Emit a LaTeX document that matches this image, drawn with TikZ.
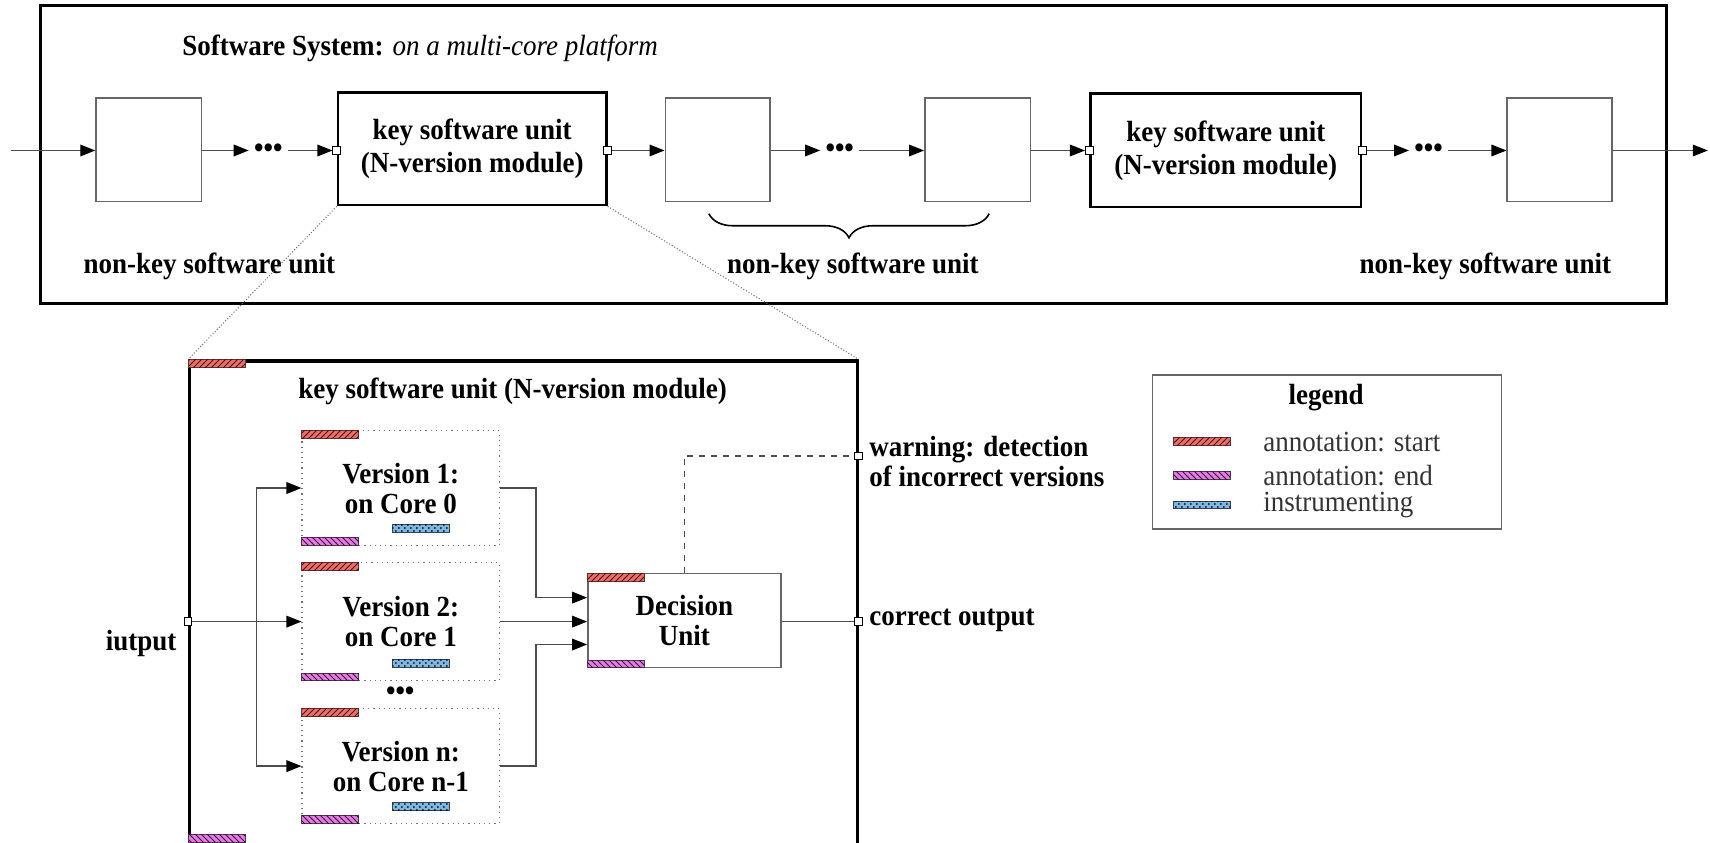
\documentclass[tikz,border=0pt]{standalone}
\usepackage{fontspec}
\setmainfont{Liberation Serif}[FakeStretch=0.925]
\usetikzlibrary{arrows.meta,patterns,decorations.pathreplacing,calc}
\definecolor{redc}{HTML}{E8706A}
\definecolor{pinkc}{HTML}{E37DE3}
\definecolor{bluec}{HTML}{7CBAD8}
\newcommand\bodyfont{\fontsize{14.6}{15}\selectfont}
\tikzset{
  boxat/.style n args={4}{minimum width={(#3-#1)*0.5453pt}, minimum height={(#4-#2)*0.5453pt}, at={($(#1,#2)!0.5!(#3,#4)$)}},
  unitbox/.style={draw=black!60, line width=0.7pt, inner sep=0pt, fill=white},
  keybox/.style={draw=black, line width=1.3pt, inner sep=0pt, align=center, font=\fontsize{14.6}{16.5}\selectfont\bfseries},
  verbox/.style={draw=black!55, dotted, line width=0.6pt, inner sep=0pt, align=center, font=\bodyfont\bfseries},
  decbox/.style={draw=black!60, line width=0.7pt, inner sep=0pt, align=center, font=\bodyfont\bfseries},
  bigbox/.style={draw=black, line width=1.4pt, inner sep=0pt},
  legbox/.style={draw=black!60, line width=0.7pt, inner sep=0pt},
  port/.style={draw=black, line width=0.5pt, fill=white, minimum size=3.8pt, inner sep=0pt},
  conn/.style={draw=black!70, line width=0.7pt},
  arr/.style={conn, -{Triangle[length=7.5pt,width=5.8pt,color=black]}},
  dotsn/.style={inner sep=2.5pt, font=\bodyfont\bfseries},
  lbl/.style={font=\bodyfont\bfseries, inner sep=1pt},
  leglbl/.style={font=\bodyfont, text=black!80, inner sep=0pt, anchor=west},
  bar/.style={draw=black!75, line width=0.5pt, minimum width=28.4pt, minimum height=3.8pt, inner sep=0pt},
  startbar/.style={bar, fill=redc, postaction={pattern=north east lines, pattern color=red!45!black}},
  endbar/.style={bar, fill=pinkc, postaction={pattern=north west lines, pattern color=violet!60!black}},
  instbar/.style={bar, fill=bluec, postaction={pattern=crosshatch dots, pattern color=blue!40!black}},
  zoomline/.style={draw=black!60, densely dotted, line width=0.5pt},
}
\begin{document}
\begin{tikzpicture}[x=0.5453pt, y=-0.5453pt]
\useasboundingbox (0,0) rectangle (1568,773);

% ---------- upper system ----------
\node[bigbox, boxat={37}{5}{1528}{278}] (sys) {};
\node[lbl, anchor=west] (title) at (165,44) {Software System: \textit{\mdseries on a multi-core platform}};

\node[unitbox, boxat={88}{90}{185}{185}] (u1) {};
\node[keybox, boxat={310}{85}{556}{188}] (k1) {key software unit\\(N-version module)};
\node[unitbox, boxat={610}{90}{706}{185}] (u3) {};
\node[unitbox, boxat={848}{90}{945}{185}] (u4) {};
\node[keybox, boxat={1000}{86}{1248}{190}] (k2) {key software unit\\(N-version module)};
\node[unitbox, boxat={1382}{90}{1478}{185}] (u5) {};

\coordinate (in) at (10,138);
\coordinate (out) at (1566,138);
\node[dotsn] (d1) at (246,138) {•••};
\node[dotsn] (d2) at (770,138) {•••};
\node[dotsn] (d3) at (1310,138) {•••};

\node[port] (k1a) at (k1.west |- 0,138) {};
\node[port] (k1b) at (k1.east |- 0,138) {};
\node[port] (k2a) at (k2.west |- 0,138) {};
\node[port] (k2b) at (k2.east |- 0,138) {};

\draw[arr] (in) -- (u1.west |- in);
\draw[arr] (u1.east |- d1) -- (d1);
\draw[arr] (d1) -- (k1a);
\draw[arr] (k1b) -- (u3.west |- k1b);
\draw[arr] (u3.east |- d2) -- (d2);
\draw[arr] (d2) -- (u4.west |- d2);
\draw[arr] (u4.east |- k2a) -- (k2a);
\draw[arr] (k2b) -- (d3);
\draw[arr] (d3) -- (u5.west |- d3);
\draw[arr] (u5.east |- out) -- (out);

\draw[decorate, decoration={brace, mirror, amplitude=12pt}, line width=0.8pt] (650,196) -- (907,196);

\node[lbl] (n1) at (192,244) {non-key software unit};
\node[lbl] (n2) at (782,244) {non-key software unit};
\node[lbl] (n3) at (1362,244) {non-key software unit};

% ---------- detail ----------
\node[bigbox, line width=1.6pt, boxat={174}{331}{786}{782}] (det) {};
\draw[zoomline] (k1.south west) -- (det.north west);
\draw[zoomline] (k1.south east) -- (det.north east);
\node[startbar, anchor=north west] (detS) at (det.north west) {};
\node[endbar, anchor=south west] (detE) at (det.west |- 0,773) {};
\node[lbl] (dettitle) at (470,359) {key software unit (N-version module)};

\node[verbox, boxat={277}{395}{458}{500}] (v1) {Version 1:\\on Core 0};
\node[verbox, boxat={277}{516}{458}{624}] (v2) {Version 2:\\on Core 1};
\node[verbox, boxat={277}{650}{458}{755}] (vn) {Version n:\\on Core n-1};
\node[dotsn] (vdots) at (367,636) {•••};

\foreach \v in {v1,v2,vn}{
  \node[startbar, anchor=north west] at (\v.north west) {};
  \node[endbar, anchor=south west] at (\v.south west) {};
  \node[instbar, anchor=south west] at ($(\v.south west)+(83,-12)$) {};
}

\node[decbox, boxat={539}{526}{716}{612}] (dec) {Decision\\Unit};
\node[startbar, anchor=north west] (decS) at (dec.north west) {};
\node[endbar, anchor=south west] (decE) at (dec.south west) {};

\node[port] (ip) at (det.west |- 0,570) {};
\node[lbl, anchor=east] (iplbl) at (164,590) {iutput};
\coordinate (bus) at (235,570);
\draw[arr] (ip) -- (v2.west |- ip);
\draw[arr] (bus) |- (v1.west);
\draw[arr] (bus) |- (vn.west);

\coordinate (din1) at ($(dec.west)+(0,-21)$);
\coordinate (din3) at ($(dec.west)+(0,22)$);
\draw[arr] (v1.east) -- ++(33,0) |- (din1);
\draw[arr] (v2.east) -- (dec.west |- v2.east);
\draw[arr] (vn.east) -- ++(33,0) |- (din3);

\node[port] (op) at (det.east |- 0,570) {};
\draw[conn] (dec.east |- op) -- (op);
\node[lbl, anchor=west] (oplbl) at (795,569) {correct output};

\node[port] (wp) at (det.east |- 0,418) {};
\draw[conn, dashed] (dec.north) |- (wp);
\node[lbl, anchor=west, align=left] (wplbl) at (795,423) {warning: detection\\of incorrect versions};

% ---------- legend ----------
\node[legbox, boxat={1057}{344}{1377}{485}] (leg) {};
\node[lbl] (legt) at (1216,365) {legend};
\node[startbar] (l1) at (1102,405) {};
\node[endbar] (l2) at (1102,436) {};
\node[instbar] (l3) at (1102,463) {};
\node[leglbl] at (1158,405) {annotation: start};
\node[leglbl] at (1158,436) {annotation: end};
\node[leglbl] at (1158,463) {instrumenting};
\end{tikzpicture}
\end{document}
